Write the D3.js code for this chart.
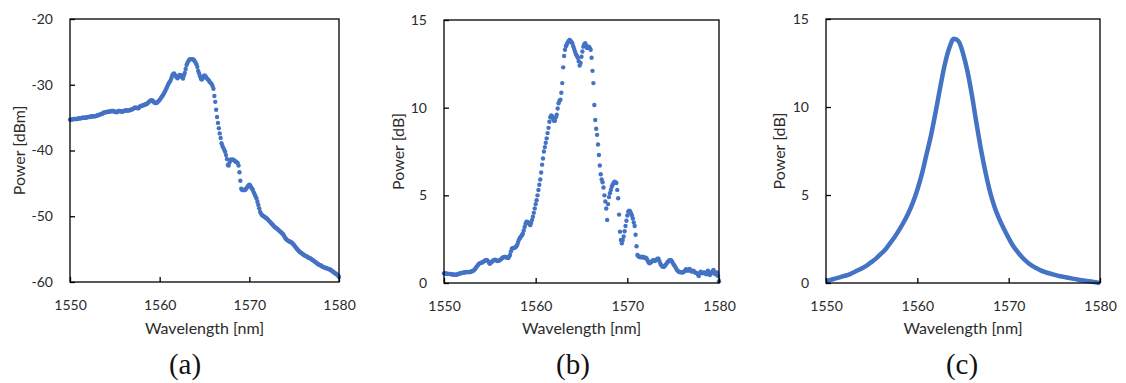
<!DOCTYPE html>
<html>
<head>
<meta charset="utf-8">
<script src="https://cdn.jsdelivr.net/npm/d3@7"></script>
<style>
  body { margin: 0; background: #fff; }
  svg { display: block; }
  .tick text { font-family: Lato, "Open Sans", sans-serif; font-size: 14px; fill: #2b2b2b; }
  .lbl { font-family: Lato, "Open Sans", sans-serif; font-size: 16px; fill: #2b2b2b; }
  .cap { font-family: "Liberation Serif", "DejaVu Serif", serif; font-size: 29px; fill: #111; }
</style>
</head>
<body>
<svg id="chart" width="1126" height="383"></svg>
<script>
// wavelength grids: start, step (nm)
var startA = 1550, stepA = 0.1;
var startB = 1550, stepB = 0.1;
var startC = 1550, stepC = 0.5;

// (a) power [dBm], read every 0.1 nm (one row per nm)
var powerA = [
  -35.3,-35.3,-35.3,-35.25,-35.2,-35.2,-35.2,-35.2,-35.2,-35.15,
  -35.1,-35.1,-35.1,-35.05,-35.0,-35.0,-35.0,-35.0,-35.0,-34.95,
  -34.9,-34.9,-34.9,-34.85,-34.8,-34.8,-34.8,-34.8,-34.8,-34.75,
  -34.7,-34.65,-34.6,-34.55,-34.5,-34.45,-34.4,-34.3,-34.2,-34.2,
  -34.2,-34.15,-34.1,-34.1,-34.1,-34.05,-34.0,-34.0,-34.0,-34.05,
  -34.1,-34.15,-34.2,-34.1,-34.0,-34.0,-34.0,-34.05,-34.1,-34.05,
  -34.0,-33.95,-33.9,-33.9,-33.9,-33.9,-33.9,-33.85,-33.8,-33.75,
  -33.7,-33.6,-33.5,-33.5,-33.5,-33.55,-33.6,-33.45,-33.3,-33.25,
  -33.2,-33.15,-33.1,-33.05,-33.0,-32.95,-32.9,-32.75,-32.6,-32.5,
  -32.4,-32.4,-32.4,-32.55,-32.7,-32.75,-32.8,-32.7,-32.6,-32.45,
  -32.3,-32.1,-31.9,-31.7,-31.5,-31.25,-31.0,-30.7,-30.4,-30.1,
  -29.8,-29.6,-29.4,-29.0,-28.6,-28.4,-28.3,-28.5,-28.7,-28.85,
  -29.0,-28.8,-28.5,-28.55,-28.6,-28.85,-29.05,-28.6,-28.2,-27.6,
  -27.0,-26.7,-26.4,-26.2,-26.1,-26.1,-26.1,-26.15,-26.2,-26.4,
  -26.6,-26.9,-27.3,-27.9,-28.3,-28.7,-29.1,-29.2,-29.0,-28.7,
  -28.6,-28.7,-28.9,-29.1,-29.2,-29.4,-29.6,-29.75,-29.9,-30.2,
  -30.6,-31.7,-32.6,-33.8,-34.9,-35.8,-36.6,-37.4,-38.1,-38.9,
  -39.3,-39.6,-39.9,-40.2,-40.7,-41.3,-42.2,-42.3,-41.8,-41.4,
  -41.4,-41.4,-41.4,-41.5,-41.6,-41.7,-41.8,-41.9,-42.3,-43.3,
  -44.6,-45.8,-46.0,-46.0,-46.0,-46.0,-45.9,-45.7,-45.5,-45.3,
  -45.2,-45.3,-45.6,-45.8,-46.0,-46.4,-46.7,-47.0,-47.3,-47.8,
  -48.3,-48.8,-49.3,-49.6,-49.8,-49.9,-50.0,-50.1,-50.2,-50.3,
  -50.4,-50.55,-50.7,-50.85,-51.0,-51.15,-51.3,-51.45,-51.6,-51.7,
  -51.8,-51.9,-52.0,-52.15,-52.3,-52.4,-52.5,-52.65,-52.8,-53.05,
  -53.3,-53.45,-53.6,-53.7,-53.8,-53.85,-53.9,-54.0,-54.1,-54.25,
  -54.4,-54.6,-54.8,-54.95,-55.1,-55.25,-55.4,-55.5,-55.6,-55.7,
  -55.8,-55.9,-56.0,-56.05,-56.1,-56.2,-56.3,-56.35,-56.4,-56.5,
  -56.6,-56.7,-56.8,-56.9,-57.0,-57.1,-57.2,-57.3,-57.4,-57.45,
  -57.5,-57.6,-57.7,-57.75,-57.8,-57.85,-57.9,-57.95,-58.0,-58.05,
  -58.1,-58.2,-58.3,-58.4,-58.5,-58.6,-58.7,-58.8,-58.9,-59.05,
  -59.2
];

// (b) power [dB], read every 0.1 nm (one row per nm)
var powerB = [
  0.55,0.55,0.55,0.53,0.52,0.52,0.52,0.51,0.50,0.49,
  0.48,0.48,0.48,0.47,0.48,0.50,0.52,0.54,0.55,0.57,
  0.58,0.59,0.60,0.61,0.62,0.63,0.63,0.62,0.62,0.64,
  0.66,0.68,0.70,0.75,0.80,0.88,0.95,1.02,1.08,1.12,
  1.15,1.16,1.18,1.22,1.25,1.29,1.32,1.30,1.25,1.16,
  1.10,1.15,1.20,1.25,1.30,1.32,1.33,1.29,1.25,1.26,
  1.28,1.31,1.35,1.40,1.45,1.47,1.49,1.48,1.46,1.44,
  1.43,1.50,1.60,1.80,1.96,1.98,2.00,2.02,2.04,2.10,
  2.20,2.35,2.50,2.58,2.65,2.72,2.82,3.00,3.20,3.38,
  3.49,3.48,3.45,3.38,3.30,3.42,3.60,3.78,4.00,4.25,
  4.50,4.72,5.00,5.30,5.60,5.90,6.30,6.75,7.10,7.50,
  7.75,8.00,8.25,8.55,8.85,9.20,9.45,9.55,9.50,9.35,
  9.25,9.25,9.45,9.60,9.95,10.25,10.40,10.45,10.85,11.40,
  12.30,12.95,13.30,13.50,13.62,13.72,13.80,13.86,13.82,13.75,
  13.67,13.50,13.35,13.19,13.05,12.95,12.85,12.65,12.40,12.55,
  12.90,13.20,13.48,13.60,13.67,13.55,13.40,13.42,13.48,13.40,
  13.30,12.85,12.10,11.40,10.15,9.30,8.80,8.45,7.90,7.30,
  6.70,6.20,5.90,5.75,5.45,5.00,4.65,4.25,3.60,4.50,
  4.90,5.12,5.30,5.49,5.60,5.70,5.78,5.75,5.70,5.31,
  4.83,3.90,2.93,2.45,2.26,2.45,2.65,2.95,3.25,3.55,
  3.85,4.07,4.12,4.10,3.98,3.85,3.68,3.45,3.25,2.75,
  2.10,1.60,1.52,1.50,1.48,1.46,1.50,1.48,1.45,1.44,
  1.45,1.40,1.30,1.20,1.12,1.15,1.20,1.25,1.30,1.28,
  1.25,1.30,1.35,1.38,1.38,1.25,1.10,1.02,0.95,0.93,
  0.92,0.98,1.05,1.12,1.20,1.25,1.30,1.30,1.28,1.20,
  1.10,1.02,0.95,0.85,0.75,0.70,0.65,0.63,0.62,0.61,
  0.60,0.62,0.65,0.72,0.78,0.74,0.70,0.76,0.80,0.72,
  0.65,0.68,0.70,0.64,0.60,0.58,0.55,0.48,0.40,0.55,
  0.65,0.60,0.55,0.58,0.60,0.55,0.50,0.62,0.70,0.55,
  0.45,0.52,0.60,0.68,0.75,0.62,0.50,0.55,0.60,0.40,
  0.10
];

// (c) power [dB], read every 0.5 nm
var powerC = [
  0.10,0.18,0.25,0.32,0.40,0.48,0.60,0.72,0.85,1.00,
  1.20,1.40,1.65,1.90,2.25,2.60,3.00,3.45,3.95,4.55,
  5.30,6.20,7.30,8.40,9.70,11.10,12.40,13.35,13.88,13.75,
  13.05,12.00,10.60,9.00,7.50,6.20,5.10,4.25,3.60,3.05,
  2.55,2.10,1.75,1.45,1.20,1.00,0.85,0.72,0.62,0.54,
  0.47,0.40,0.35,0.30,0.25,0.20,0.16,0.12,0.08,0.04,
  0.00
];

var xTicks = [1550, 1560, 1570, 1580];
var yTicksA = [-20, -30, -40, -50, -60];
var yTicksBC = [0, 5, 10, 15];

var blue = "#4472C4";
var svg = d3.select("#chart");

// plain hyphen for negatives, like the original
var fmt = function(d) { return String(d); };

function toPoints(start, step, vals) {
  return vals.map(function(v, i) { return { x: start + i * step, y: v }; });
}

var panels = [
  { box: [70, 339, 19, 282], ydom: [-60, -20], yt: yTicksA, ylab: "Power [dBm]", yoff: 45,
    cap: "(a)", capx: 185, pts: toPoints(startA, stepA, powerA), mode: "dots" },
  { box: [444, 719, 20, 283], ydom: [0, 15], yt: yTicksBC, ylab: "Power [dB]", yoff: 40,
    cap: "(b)", capx: 573, pts: toPoints(startB, stepB, powerB), mode: "dots" },
  { box: [826, 1100, 19, 283], ydom: [0, 15], yt: yTicksBC, ylab: "Power [dB]", yoff: 41,
    cap: "(c)", capx: 962, pts: toPoints(startC, stepC, powerC), mode: "line" }
];

panels.forEach(function(p) {
  var x = d3.scaleLinear().domain([1550, 1580]).range([p.box[0], p.box[1]]);
  var y = d3.scaleLinear().domain(p.ydom).range([p.box[3], p.box[2]]);
  var g = svg.append("g");

  // data
  if (p.mode === "dots") {
    g.selectAll("circle").data(p.pts).enter().append("circle")
      .attr("cx", function(d) { return x(d.x); })
      .attr("cy", function(d) { return y(d.y); })
      .attr("r", 2.2)
      .attr("fill", blue);
  } else {
    g.append("path").datum(p.pts)
      .attr("fill", "none")
      .attr("stroke", blue)
      .attr("stroke-width", 4.5)
      .attr("d", d3.line().x(function(d) { return x(d.x); }).y(function(d) { return y(d.y); })
        .curve(d3.curveMonotoneX));
  }

  // axes, ticks inward
  var ax = g.append("g").attr("transform", "translate(0," + p.box[3] + ")")
    .call(d3.axisBottom(x).tickValues(xTicks).tickSize(-5).tickPadding(18).tickFormat(fmt));
  var ay = g.append("g").attr("transform", "translate(" + p.box[0] + ",0)")
    .call(d3.axisLeft(y).tickValues(p.yt).tickSize(-5).tickPadding(17).tickFormat(fmt));
  [ax, ay].forEach(function(a) {
    a.select(".domain").remove();
    a.selectAll(".tick line").attr("stroke", "#000").attr("stroke-width", 1.3);
  });

  // frame
  g.append("rect")
    .attr("x", p.box[0]).attr("y", p.box[2])
    .attr("width", p.box[1] - p.box[0]).attr("height", p.box[3] - p.box[2])
    .attr("fill", "none").attr("stroke", "#000").attr("stroke-width", 1.3);

  var cx = (p.box[0] + p.box[1]) / 2;
  g.append("text").attr("class", "lbl")
    .attr("x", cx).attr("y", 334).attr("text-anchor", "middle")
    .text("Wavelength [nm]");
  g.append("text").attr("class", "lbl")
    .attr("transform", "translate(" + (p.box[0] - p.yoff) + "," + ((p.box[2] + p.box[3]) / 2) + ") rotate(-90)")
    .attr("text-anchor", "middle")
    .text(p.ylab);
  g.append("text").attr("class", "cap")
    .attr("x", p.capx).attr("y", 374).attr("text-anchor", "middle")
    .text(p.cap);
});
</script>
</body>
</html>
